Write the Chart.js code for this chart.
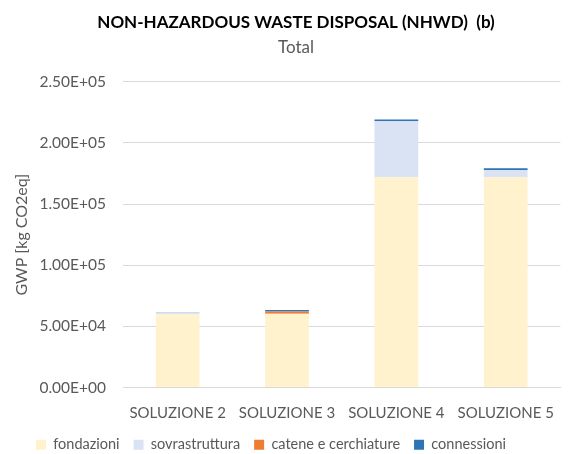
<!DOCTYPE html>
<html>
<head>
<meta charset="utf-8">
<script src="https://cdn.jsdelivr.net/npm/chart.js@4"></script>
<style>
  html, body { margin: 0; padding: 0; background: #ffffff; }
  #wrap { width: 571px; height: 454px; position: relative; }
</style>
</head>
<body>
<div id="wrap"><canvas id="c" width="571" height="454"></canvas></div>
<script>
// Categories and GWP contributions per component [kg CO2eq]
const categories = ['SOLUZIONE 2', 'SOLUZIONE 3', 'SOLUZIONE 4', 'SOLUZIONE 5'];
const fondazioni = [60000, 60000, 172000, 172000];
const sovrastruttura = [1100, 400, 45800, 5800];
const cateneCerchiature = [0, 1800, 0, 0];
const connessioni = [300, 1100, 1400, 1500];
const yTicks = [0, 50000, 100000, 150000, 200000, 250000];

const FONT = 'Lato, "Open Sans", sans-serif';
const GREY = '#595959';

// Excel-style scientific notation, e.g. 2.50E+05
function sci(v) {
  if (v === 0) return '0.00E+00';
  const [m, e] = v.toExponential(2).split('e');
  const n = parseInt(e, 10);
  const sign = n < 0 ? '-' : '+';
  return m + 'E' + sign + String(Math.abs(n)).padStart(2, '0');
}

function ds(label, data, color) {
  return {
    label, data,
    backgroundColor: color,
    borderWidth: 0,
    barPercentage: 0.4,
    categoryPercentage: 1.0
  };
}

new Chart(document.getElementById('c'), {
  type: 'bar',
  data: {
    labels: categories,
    datasets: [
      ds('fondazioni', fondazioni, '#FFF2CC'),
      ds('sovrastruttura', sovrastruttura, '#DAE3F3'),
      ds('catene e cerchiature', cateneCerchiature, '#ED7D31'),
      ds('connessioni', connessioni, '#2E75B6')
    ]
  },
  options: {
    responsive: false,
    animation: false,
    devicePixelRatio: 1,
    layout: { padding: { left: 22, right: 1, top: 12, bottom: -8 } },
    plugins: {
      title: {
        display: true,
        text: 'NON-HAZARDOUS WASTE DISPOSAL (NHWD)  (b)',
        color: '#000000',
        font: { family: FONT, size: 17, weight: 'bold' },
        padding: { top: 0, bottom: 5 }
      },
      subtitle: {
        display: true,
        text: 'Total',
        color: GREY,
        font: { family: FONT, size: 17, weight: 'normal' },
        padding: { top: 0, bottom: 24 }
      },
      legend: {
        position: 'bottom',
        align: 'start',
        labels: {
          boxWidth: 10,
          boxHeight: 10,
          color: GREY,
          padding: 14,
          font: { family: FONT, size: 14.5 }
        }
      },
      tooltip: { enabled: false }
    },
    scales: {
      x: {
        stacked: true,
        afterFit: (s) => { s.height = 36; },
        grid: { display: false, drawTicks: false },
        border: { display: true, color: '#D9D9D9', width: 1 },
        ticks: { color: GREY, font: { family: FONT, size: 15 }, padding: 17, maxRotation: 0 }
      },
      y: {
        stacked: true,
        min: 0,
        max: 250000,
        afterBuildTicks: (s) => { s.ticks = yTicks.map(v => ({ value: v })); },
        afterFit: (s) => { s.width = 101; },
        grid: { color: '#D9D9D9', lineWidth: 1, drawTicks: false },
        border: { display: false },
        ticks: {
          color: GREY,
          padding: 17,
          font: { family: FONT, size: 15.5 },
          callback: (v) => sci(v)
        },
        title: {
          display: true,
          text: 'GWP [kg CO2eq]',
          color: GREY,
          font: { family: FONT, size: 16 },
          padding: { top: -10, bottom: 4 }
        }
      }
    }
  }
});
</script>
</body>
</html>
